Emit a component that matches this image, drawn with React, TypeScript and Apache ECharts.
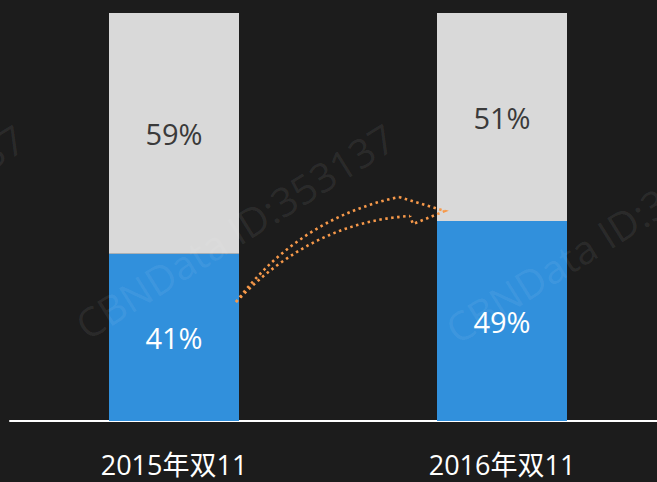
import React, { useEffect, useRef } from "react";
import * as echarts from "echarts";

const categories = ["2015年双11", "2016年双11"];
const bluePart = [41, 49];
const greyPart = [59, 51];
const watermarkText = "CBNData ID:353137";

export default function App() {
  const ref = useRef<HTMLDivElement>(null);
  useEffect(() => {
    const chart = echarts.init(ref.current!, null, { renderer: "svg" });
    const dash = [2.5, 3.5];
    const arrowStyle = { stroke: "#f7994a", lineWidth: 2.6, lineDash: dash, fill: null };
    const wmStyle = {
      text: watermarkText,
      fontSize: 40,
      fontFamily: "Open Sans, Noto Sans, sans-serif",
      fill: "rgba(255,255,255,0.07)",
      align: "center",
      verticalAlign: "middle",
    };
    const rot = (32 * Math.PI) / 180;
    chart.setOption({
      animation: false,
      backgroundColor: "#1c1c1c",
      grid: { left: 10, top: 13, width: 656, height: 408, containLabel: false },
      xAxis: {
        type: "category",
        data: categories,
        axisLine: { show: true, lineStyle: { color: "#ffffff", width: 2 } },
        axisTick: { show: false },
        axisLabel: {
          color: "#ffffff",
          fontSize: 27,
          margin: 29,
          lineHeight: 28,
          fontFamily: "Open Sans, Noto Sans CJK SC, sans-serif",
        },
      },
      yAxis: { type: "value", min: 0, max: 100, show: false, splitLine: { show: false } },
      series: [
        {
          type: "bar",
          stack: "s",
          data: bluePart,
          barWidth: 130,
          itemStyle: { color: "#3190dc" },
          label: {
            show: true,
            position: "inside",
            formatter: "{c}%",
            color: "#ffffff",
            fontSize: 29,
            fontFamily: "Open Sans, Noto Sans, sans-serif",
          },
        },
        {
          type: "bar",
          stack: "s",
          data: greyPart,
          barWidth: 130,
          itemStyle: { color: "#d9d9d9" },
          label: {
            show: true,
            position: "inside",
            formatter: "{c}%",
            color: "#3a3a3a",
            fontSize: 29,
            fontFamily: "Open Sans, Noto Sans, sans-serif",
          },
        },
      ],
      graphic: [
        { type: "text", x: -135, y: 232, rotation: rot, style: wmStyle, z: 100 },
        { type: "text", x: 235, y: 231, rotation: rot, style: wmStyle, z: 100 },
        { type: "text", x: 605, y: 235, rotation: rot, style: wmStyle, z: 100 },
        {
          type: "bezierCurve",
          shape: { x1: 236, y1: 302, x2: 399, y2: 197, cpx1: 300, cpy1: 218 },
          style: arrowStyle,
          z: 101,
        },
        {
          type: "bezierCurve",
          shape: { x1: 236, y1: 302, x2: 410, y2: 216, cpx1: 312, cpy1: 222 },
          style: arrowStyle,
          z: 101,
        },
        {
          type: "polyline",
          shape: { points: [[399, 197], [445, 211], [413, 224], [410, 216]] },
          style: arrowStyle,
          z: 101,
        },
      ],
    });
    return () => chart.dispose();
  }, []);
  return (
    <div style={{ width: 657, height: 482, position: "absolute", left: 0, top: 0, overflow: "hidden", background: "#1c1c1c" }}>
      <div ref={ref} style={{ width: 680, height: 482 }} />
    </div>
  );
}
